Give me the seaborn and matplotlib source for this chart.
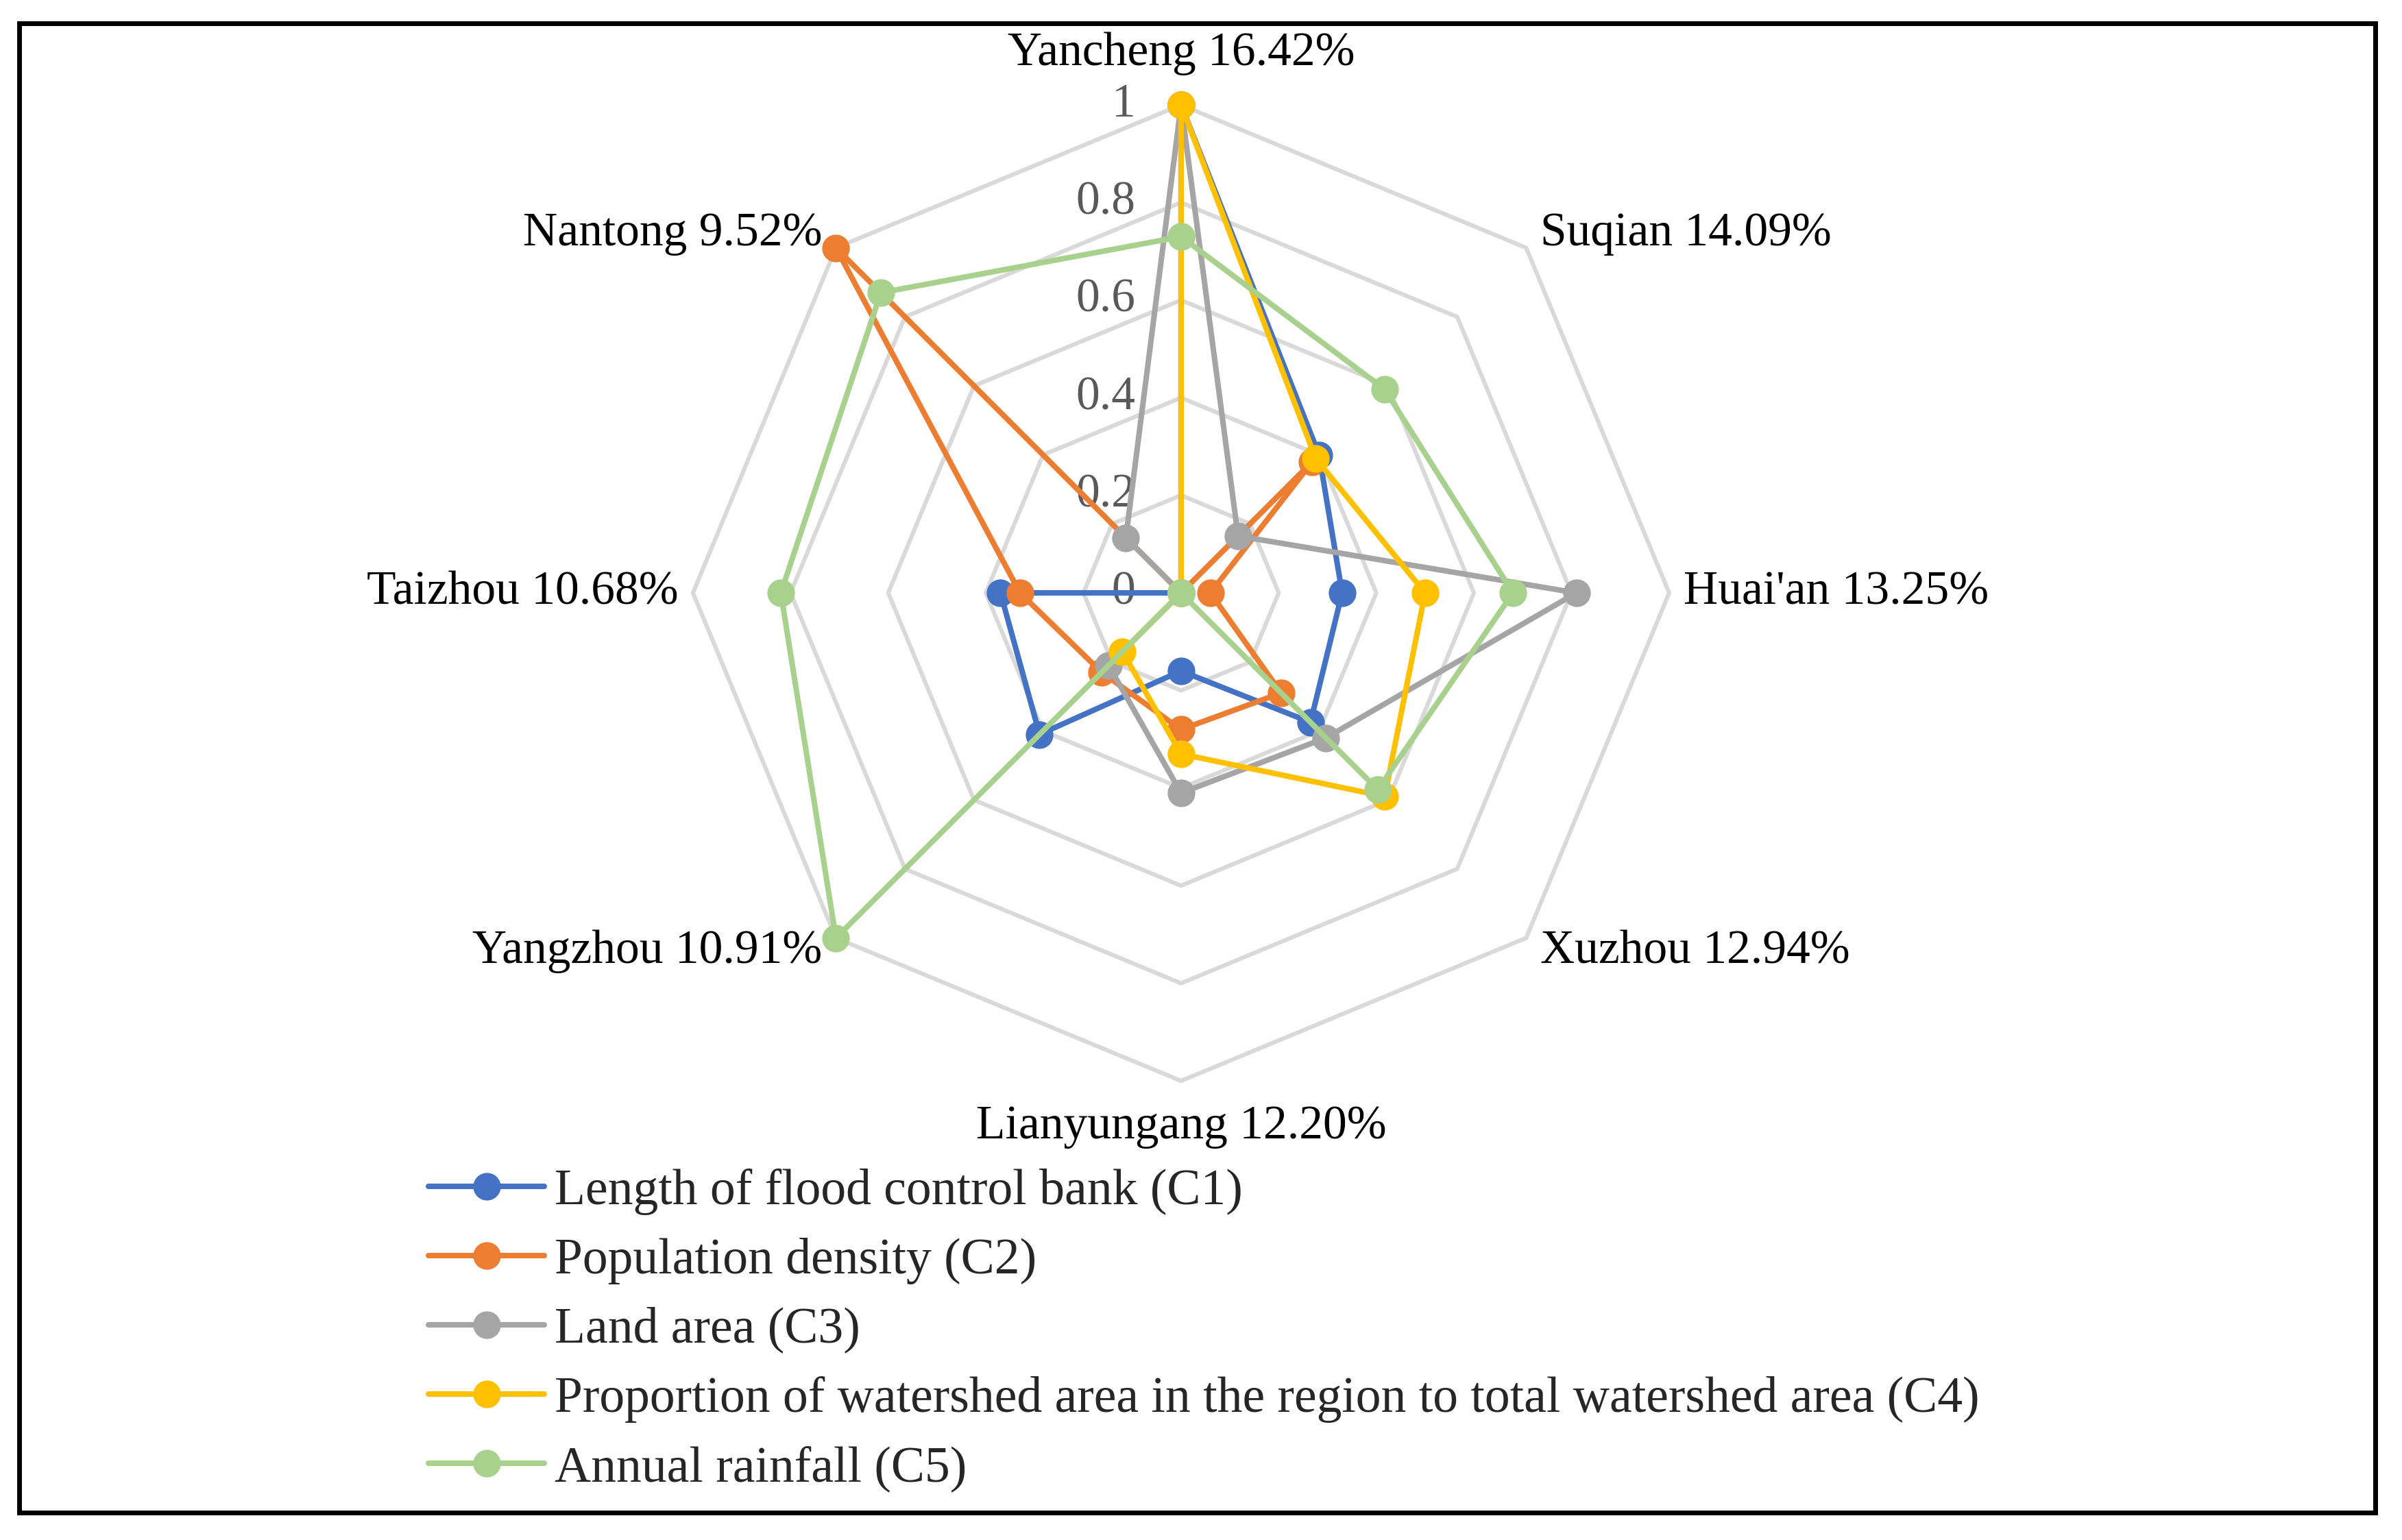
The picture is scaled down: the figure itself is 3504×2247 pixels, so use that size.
import numpy as np
import pandas as pd
import matplotlib
matplotlib.use("Agg")
import matplotlib.pyplot as plt
from matplotlib.patches import Rectangle
import seaborn as sns

# --- DATA ---
cities = ["Yancheng 16.42%", "Suqian 14.09%", "Huai'an 13.25%", "Xuzhou 12.94%",
          "Lianyungang 12.20%", "Yangzhou 10.91%", "Taizhou 10.68%", "Nantong 9.52%"]
series_names = ["Length of flood control bank (C1)",
                "Population density (C2)",
                "Land area (C3)",
                "Proportion of watershed area in the region to total watershed area (C4)",
                "Annual rainfall (C5)"]
c1 = [1.00, 0.40, 0.33, 0.375, 0.16, 0.41, 0.37, 0.00]
c2 = [0.00, 0.38, 0.06, 0.29, 0.28, 0.23, 0.33, 1.00]
c3 = [1.00, 0.165, 0.81, 0.42, 0.41, 0.21, 0.00, 0.16]
c4 = [1.00, 0.39, 0.50, 0.59, 0.33, 0.17, 0.00, 0.00]
c5 = [0.73, 0.59, 0.68, 0.57, 0.00, 1.00, 0.82, 0.87]
ring_ticks = [0, 0.2, 0.4, 0.6, 0.8, 1.0]
tick_labels = ["0", "0.2", "0.4", "0.6", "0.8", "1"]
colors = ["#4472C4", "#ED7D31", "#A5A5A5", "#FFC000", "#A9D18E"]

sns.set_theme(style="white")
plt.rcParams['font.family'] = ['Liberation Serif', 'DejaVu Serif']

n = len(cities)
angles = np.linspace(0, 2 * np.pi, n, endpoint=False)
angles_closed = np.append(angles, 2 * np.pi)

fig = plt.figure(figsize=(17.52, 11.235), dpi=200)
ax = fig.add_axes([0.4917 - 0.2032, 0.615 - 0.317, 0.4064, 0.634], projection='polar')
ax.set_theta_zero_location('N')
ax.set_theta_direction(-1)
ax.set_ylim(0, 1)
ax.grid(False)
ax.spines['polar'].set_visible(False)
ax.set_xticks([])
ax.set_yticks([])
ax.set_facecolor('none')

# polygon rings (no spokes, like the Excel radar)
for r in ring_ticks[1:]:
    ax.plot(angles_closed, [r] * (n + 1), color='#D9D9D9', lw=2.2, zorder=1, clip_on=False)

# radial tick labels
for r, lab in zip(ring_ticks, tick_labels):
    ax.annotate(lab, xy=(0, r), xytext=(-24, 0), textcoords='offset points',
                ha='right', va='center', fontsize=25, color='#595959', zorder=2,
                annotation_clip=False)

# series
for name, vals, col in zip(series_names, [c1, c2, c3, c4, c5], colors):
    df = pd.DataFrame({'theta': angles_closed, 'value': list(vals) + [vals[0]]})
    sns.lineplot(data=df, x='theta', y='value', ax=ax, color=col, lw=2.9,
                 marker='o', markersize=14.5, markeredgewidth=0, sort=False,
                 estimator=None, label=name, legend=False, clip_on=False, zorder=3)
ax.set_xlabel('')
ax.set_ylabel('')

# category labels
label_pos = [(1.06, 'center', 'bottom'), (1.04, 'left', 'center'), (1.03, 'left', 'center'),
             (1.04, 'left', 'center'), (1.05, 'center', 'top'), (1.04, 'right', 'center'),
             (1.03, 'right', 'center'), (1.04, 'right', 'center')]
for ang, city, (r, ha, va) in zip(angles, cities, label_pos):
    ax.text(ang, r, city, ha=ha, va=va, fontsize=25, color='black')

handles, labels = ax.get_legend_handles_labels()
fig.legend(handles, labels, loc='upper left', bbox_to_anchor=(0.1784, 0.2414),
           frameon=False, fontsize=26.5, handlelength=2.3, handletextpad=0.2,
           labelspacing=0.45, borderaxespad=0, borderpad=0)

fig.patches.append(Rectangle((0.008, 0.018), 0.981, 0.967, transform=fig.transFigure,
                             fill=False, edgecolor='black', lw=2.5))

fig.savefig('out.png', dpi=200)
